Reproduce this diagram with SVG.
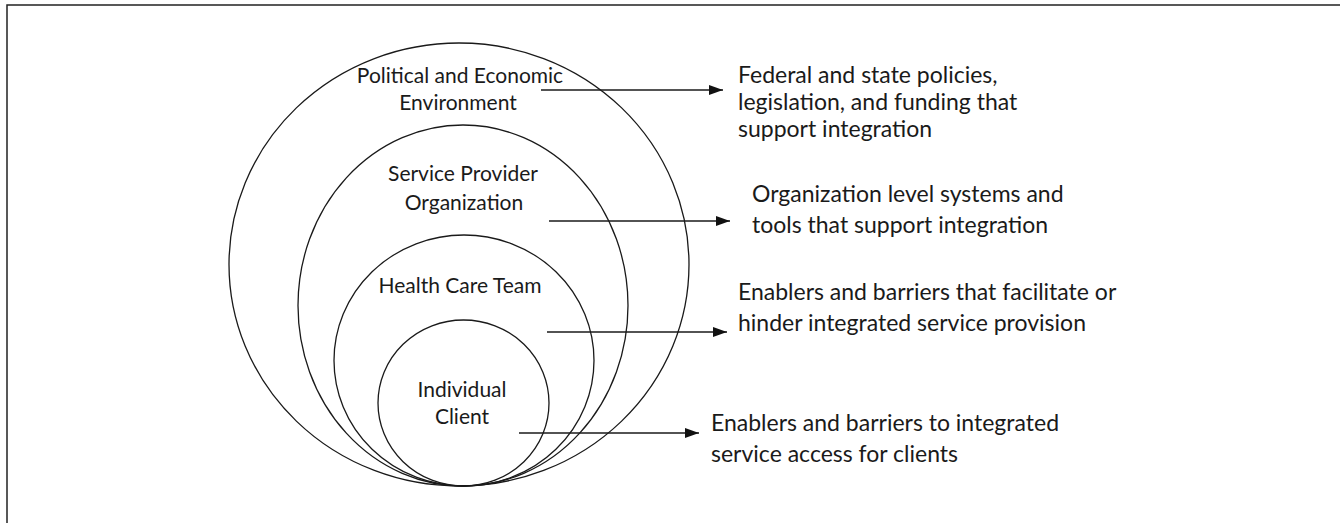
<svg xmlns="http://www.w3.org/2000/svg" width="1340" height="523" viewBox="0 0 1340 523">
<style>
.ring{fill:none;stroke:#1a1a1a;stroke-width:1.3}
.lbl{font-family:Lato,"Liberation Sans",sans-serif;font-size:21px;fill:#1a1a1a;text-anchor:middle}
.desc{font-family:Lato,"Liberation Sans",sans-serif;font-size:23px;fill:#1a1a1a}
.conn{stroke:#1a1a1a;stroke-width:1.4;fill:none}
</style>
<defs>
<marker id="ah" viewBox="0 0 14 10" refX="14" refY="5" markerWidth="14" markerHeight="10" markerUnits="userSpaceOnUse" orient="auto">
<path d="M0,0 L14,5 L0,10 Z" fill="#111"/>
</marker>
</defs>
<rect width="1340" height="523" fill="#fff"/>
<rect x="7" y="5" width="1400" height="600" fill="none" stroke="#222" stroke-width="1.5"/>
<g id="political">
<ellipse class="ring" cx="459" cy="264.5" rx="230" ry="221.5"/>
<text class="lbl" x="460" y="83">Political and Economic</text>
<text class="lbl" x="458" y="110">Environment</text>
</g>
<g id="provider">
<ellipse class="ring" cx="463" cy="305.5" rx="165" ry="180.5"/>
<text class="lbl" x="463" y="181">Service Provider</text>
<text class="lbl" x="464" y="210">Organization</text>
</g>
<g id="team">
<ellipse class="ring" cx="464" cy="360.5" rx="130" ry="125.5"/>
<text class="lbl" x="460" y="293">Health Care Team</text>
</g>
<g id="client">
<ellipse class="ring" cx="463.5" cy="403" rx="85.5" ry="83"/>
<text class="lbl" x="462" y="397">Individual</text>
<text class="lbl" x="462" y="424">Client</text>
</g>
<g id="connectors">
<line class="conn" x1="541" y1="90" x2="723" y2="90" marker-end="url(#ah)"/>
<line class="conn" x1="549" y1="221" x2="730" y2="221" marker-end="url(#ah)"/>
<line class="conn" x1="547" y1="332" x2="727" y2="332" marker-end="url(#ah)"/>
<line class="conn" x1="519" y1="433" x2="699" y2="433" marker-end="url(#ah)"/>
</g>
<g id="desc-policy">
<text class="desc" x="738" y="83">Federal and state policies,</text>
<text class="desc" x="738" y="110">legislation, and funding that</text>
<text class="desc" x="738" y="137">support integration</text>
</g>
<g id="desc-org">
<text class="desc" x="752" y="202">Organization level systems and</text>
<text class="desc" x="752" y="233">tools that support integration</text>
</g>
<g id="desc-team">
<text class="desc" x="738" y="300">Enablers and barriers that facilitate or</text>
<text class="desc" x="738" y="331">hinder integrated service provision</text>
</g>
<g id="desc-client">
<text class="desc" x="711" y="431">Enablers and barriers to integrated</text>
<text class="desc" x="711" y="462">service access for clients</text>
</g>
</svg>
